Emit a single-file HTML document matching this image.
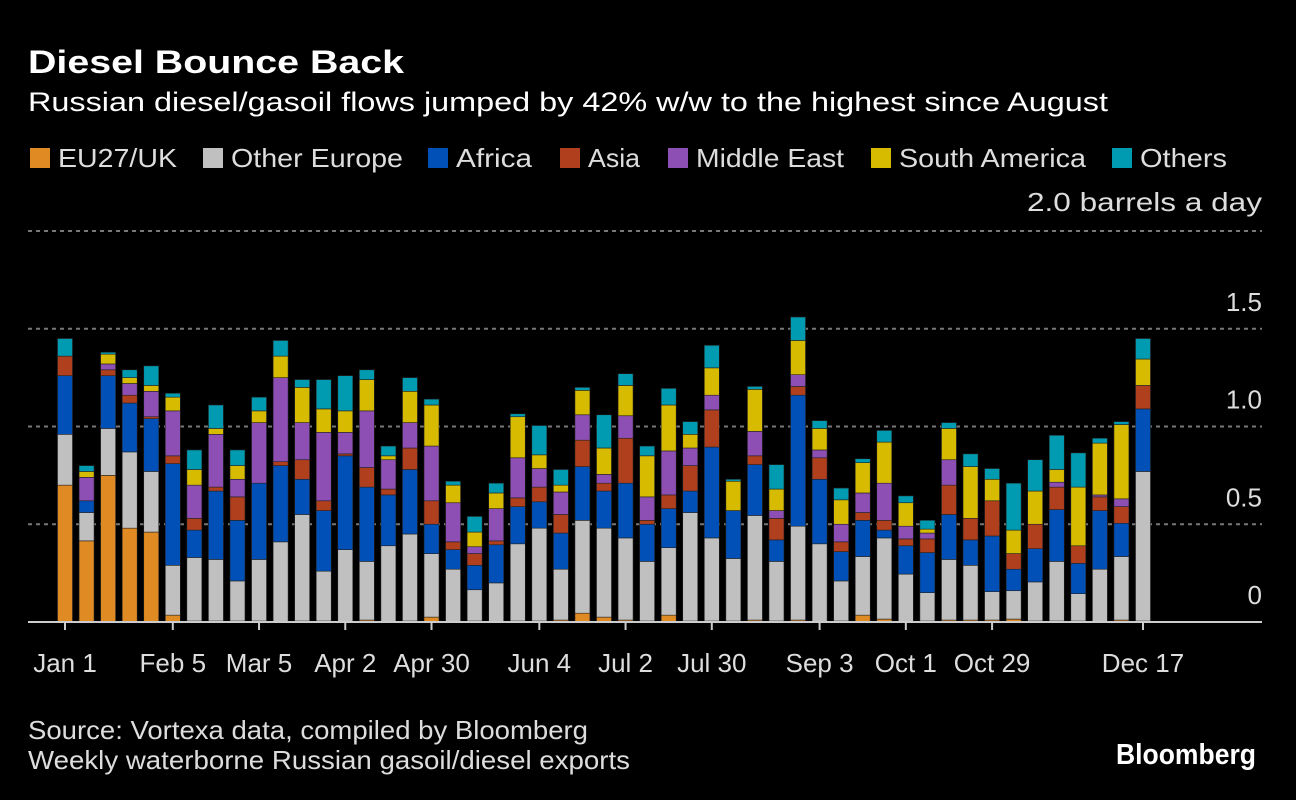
<!DOCTYPE html>
<html><head><meta charset="utf-8">
<style>
html,body{margin:0;padding:0;background:#000;}
svg{display:block;font-family:"Liberation Sans",sans-serif;}
</style></head>
<body>
<svg id="chart" width="1296" height="800" viewBox="0 0 1296 800" xmlns="http://www.w3.org/2000/svg">
<rect width="1296" height="800" fill="#000"/>
<text x="28" y="73" fill="#fff" font-size="32" font-weight="bold" textLength="376" lengthAdjust="spacingAndGlyphs">Diesel Bounce Back</text>
<text x="28" y="111" fill="#fff" font-size="27" textLength="1080" lengthAdjust="spacingAndGlyphs">Russian diesel/gasoil flows jumped by 42% w/w to the highest since August</text>
<g id="legend"></g>
<text x="1262" y="211" fill="#ddd" font-size="26" text-anchor="end" textLength="235" lengthAdjust="spacingAndGlyphs">2.0 barrels a day</text>
<g id="grid"></g>
<g id="bars"></g>
<g id="xaxis"></g>
<text x="28" y="739" fill="#ddd" font-size="26" textLength="560" lengthAdjust="spacingAndGlyphs">Source: Vortexa data, compiled by Bloomberg</text>
<text x="28" y="769" fill="#ddd" font-size="26" textLength="602" lengthAdjust="spacingAndGlyphs">Weekly waterborne Russian gasoil/diesel exports</text>
<text x="1256" y="764" fill="#fff" font-size="29" font-weight="bold" text-anchor="end" textLength="140" lengthAdjust="spacingAndGlyphs">Bloomberg</text>
</svg>
<script>
const seriesNames = ["EU27/UK","Other Europe","Africa","Asia","Middle East","South America","Others"];
const seriesColors = ["#df8a23","#c0c0c0","#0050b8","#b03f1e","#8e4fb4","#d6bb00","#009bb0"];
const eu = [.70,.415,.75,.48,.46,.035,.005,.005,.005,.005,0,.005,.005,0,.01,0,.005,.025,0,.005,0,.005,.005,.01,.045,.025,.01,.005,.035,.005,.005,.005,.01,.005,.01,0,.005,.035,.015,0,.005,.01,.01,.01,.015,.005,.005,.005,0,.01,.005];
const otherEurope = [.26,.145,.24,.39,.31,.255,.325,.315,.205,.315,.41,.545,.255,.37,.30,.39,.445,.325,.27,.16,.20,.395,.475,.26,.475,.455,.42,.305,.345,.555,.425,.32,.535,.305,.48,.40,.205,.30,.415,.245,.145,.31,.28,.145,.145,.20,.305,.14,.27,.325,.765];
const africa = [.30,.06,.27,.25,.27,.52,.14,.35,.31,.39,.39,.18,.31,.48,.38,.26,.33,.15,.10,.125,.195,.19,.135,.185,.275,.19,.28,.19,.20,.11,.465,.245,.26,.11,.67,.33,.15,.185,.04,.145,.205,.23,.13,.285,.11,.17,.265,.155,.30,.17,.32];
const asia = [.10,0,.03,.04,.01,.04,.06,.02,.12,0,.02,.10,.05,.01,.10,.03,.11,.12,.04,.06,.02,.045,.075,.095,.135,.04,.23,.02,.07,.13,.19,0,.045,.11,.045,.11,.05,.04,.05,.035,.07,.15,.11,.18,.08,.125,.115,.09,.07,.085,.12];
const middleEast = [0,.12,.03,.06,.13,.23,.17,.27,.09,.31,.43,.19,.35,.11,.29,.15,.13,.28,.20,.035,.165,.205,.095,.115,.13,.045,.115,.12,.225,.09,.075,0,.125,.04,.06,.04,.09,.10,.19,.065,.03,.13,0,0,0,0,.025,0,.01,.04,0];
const southAmerica = [0,.03,.05,.03,.03,.07,.08,.03,.07,.06,.11,.18,.12,.11,.16,.02,.16,.21,.09,.075,.08,.21,.07,.035,.125,.135,.155,.21,.235,.07,.14,.15,.215,.11,.175,.11,.125,.155,.21,.12,.02,.16,.265,.11,.12,.17,.065,.30,.265,.38,.135];
const others = [.09,.03,.01,.04,.10,.02,.10,.12,.08,.07,.08,.04,.15,.18,.05,.05,.07,.03,.02,.08,.05,.015,.15,.08,.015,.17,.06,.05,.085,.065,.115,.01,.015,.125,.12,.04,.06,.02,.06,.035,.045,.03,.065,.055,.24,.16,.175,.175,.025,.015,.105];
const tickIndex = [0,5,9,13,17,22,26,30,35,39,43,50];
const tickLabels = ["Jan 1","Feb 5","Mar 5","Apr 2","Apr 30","Jun 4","Jul 2","Jul 30","Sep 3","Oct 1","Oct 29","Dec 17"];
const yTicks = [0,0.5,1.0,1.5];
const yTickLabels = ["0","0.5","1.0","1.5"];

const NS = "http://www.w3.org/2000/svg";
const series = [eu, otherEurope, africa, asia, middleEast, southAmerica, others];
const nBars = eu.length;
const y0 = 622, pxPerUnit = 195.5;
const yScale = v => y0 - v * pxPerUnit;
const xStart = 65, xEnd = 1143;
const xScale = i => xStart + i * (xEnd - xStart) / (nBars - 1);
const barW = 15;
function mk(tag, attrs, parent){ const e = document.createElementNS(NS, tag); for (const k in attrs) e.setAttribute(k, attrs[k]); parent.appendChild(e); return e; }

// legend
const legend = document.getElementById('legend');
const legX = [30,203,428,560,668,871,1112];
const legW = [119,172,76,52,148,187,87];
seriesNames.forEach((n, i) => {
  const r = mk('rect', {x: legX[i], y: 148, width: 20, height: 20, fill: seriesColors[i]}, legend);
  
  
  const t = mk('text', {x: legX[i] + 28, y: 167, fill: '#ddd', 'font-size': 26, textLength: legW[i], lengthAdjust: 'spacingAndGlyphs'}, legend);
  t.textContent = n;
  
  
});

// grid
const grid = document.getElementById('grid');
[0.5, 1.0, 1.5, 2.0].forEach(v => {
  const l = mk('line', {x1: 28, x2: 1262, y1: yScale(v), y2: yScale(v), stroke: '#777', 'stroke-width': 2, 'stroke-dasharray': '4 4'}, grid);
  
  
});
yTicks.forEach((v, i) => {
  const t = mk('text', {x: 1262, y: yScale(v) - 18, fill: '#ddd', 'font-size': 26, 'text-anchor': 'end'}, grid);
  t.textContent = yTickLabels[i];
  
  
});

// bars
const bars = document.getElementById('bars');
for (let i = 0; i < nBars; i++) {
  let cum = 0;
  const g = mk('g', {}, bars);
  
  
  series.forEach((s, k) => {
    const v = s[i];
    if (v <= 0) return;
    const top = yScale(cum + v), bot = yScale(cum);
    const r = mk('rect', {x: xScale(i) - barW / 2, y: top, width: barW, height: bot - top, fill: seriesColors[k], stroke: '#222', 'stroke-width': 0.6}, g);
    
    
    cum += v;
  });
}

// x axis
const xa = document.getElementById('xaxis');
const axis = mk('line', {x1: 28, x2: 1262, y1: y0, y2: y0, stroke: '#ccc', 'stroke-width': 2}, xa);


tickIndex.forEach((idx, i) => {
  const tk = mk('line', {x1: xScale(idx), x2: xScale(idx), y1: y0, y2: y0 + 8, stroke: '#ccc', 'stroke-width': 2}, xa);
  
  
  const t = mk('text', {x: xScale(idx), y: 672, fill: '#ddd', 'font-size': 26, 'text-anchor': 'middle'}, xa);
  t.textContent = tickLabels[i];
  
  
});
</script>
</body></html>
